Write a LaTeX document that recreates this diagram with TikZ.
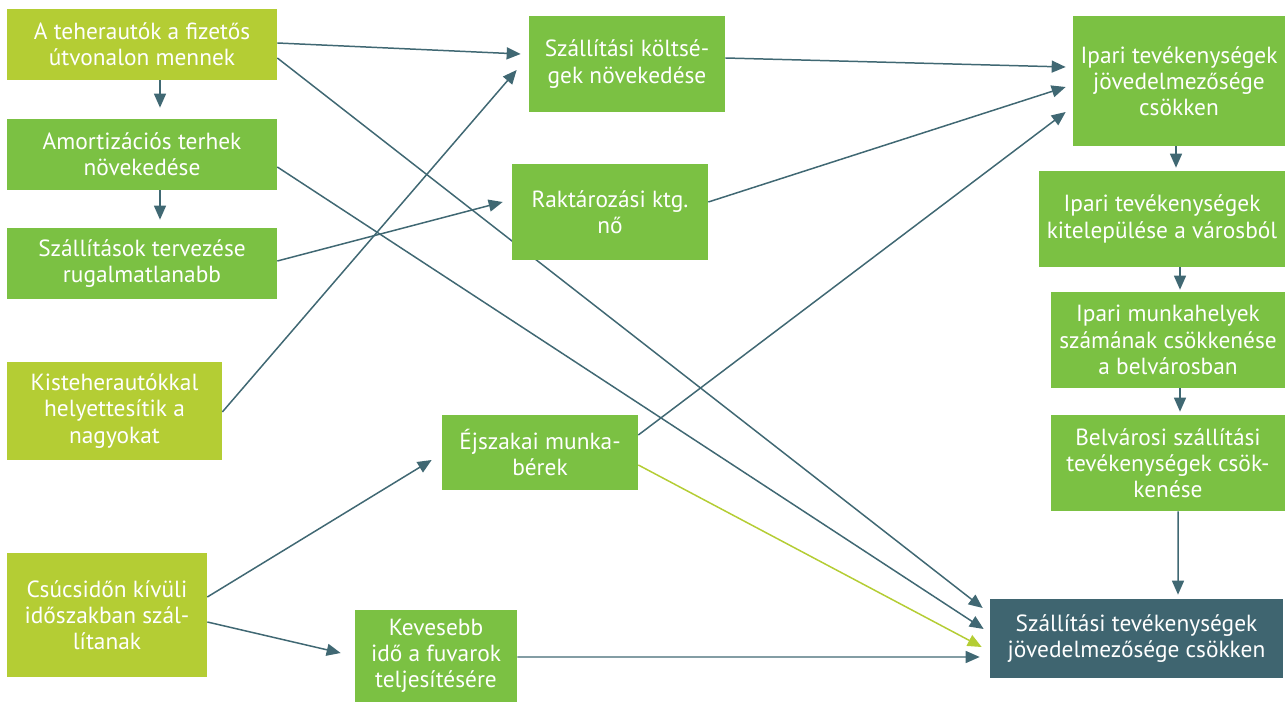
\documentclass[tikz,border=0pt]{standalone}
\usepackage{fontspec}
\setmainfont{PT Sans}
\usetikzlibrary{arrows.meta,calc}
\definecolor{limeC}{RGB}{180,205,52}
\definecolor{greenC}{RGB}{123,193,67}
\definecolor{tealC}{RGB}{63,101,112}
\definecolor{lineC}{RGB}{64,104,115}
\pgfdeclarelayer{background}
\pgfsetlayers{background,main}
\tikzset{
  box/.style={rectangle, inner sep=0pt, align=center, text=white,
    font=\fontsize{13.3}{14.9}\selectfont},
  limebox/.style={box, fill=limeC},
  greenbox/.style={box, fill=greenC},
  tealbox/.style={box, fill=tealC},
  arr/.style={draw=lineC, line width=0.85pt, -{Triangle[length=0.28cm,width=0.24cm]}},
  limearr/.style={arr, draw=limeC, -{Triangle[length=0.28cm,width=0.24cm,fill=limeC]}},
}
\begin{document}
\begin{tikzpicture}[x=0.02cm,y=-0.02cm]
\useasboundingbox (0,0) rectangle (1285,702);
% left column
\node[limebox, minimum width=5.4cm, minimum height=1.42cm] (A) at (142,44.5) {A teherautók a fizetős\\útvonalon mennek};
\node[greenbox, minimum width=5.4cm, minimum height=1.42cm] (B) at (142,154.5) {Amortizációs terhek\\növekedése};
\node[greenbox, minimum width=5.4cm, minimum height=1.42cm] (C) at (142,263.5) {Szállítások tervezése\\rugalmatlanabb};
\node[limebox, minimum width=4.3cm, minimum height=1.96cm] (D) at (114.5,411) {Kisteherautókkal\\helyettesítik a\\nagyokat};
\node[limebox, minimum width=4.0cm, minimum height=2.48cm] (E) at (107,615) {Csúcsidőn kívüli\\időszakban szál-\\lítanak};
% middle
\node[greenbox, minimum width=3.92cm, minimum height=1.92cm] (F) at (627,64) {Szállítási költsé-\\gek növekedése};
\node[greenbox, minimum width=3.92cm, minimum height=1.92cm] (G) at (610,212) {Raktározási ktg.\\nő};
\node[greenbox, minimum width=3.92cm, minimum height=1.5cm] (H) at (540,452.5) {Éjszakai munka-\\bérek};
\node[greenbox, minimum width=3.24cm, minimum height=1.84cm] (I) at (436,656) {Kevesebb\\idő a fuvarok\\teljesítésére};
% right column
\node[greenbox, minimum width=4.24cm, minimum height=2.6cm] (J) at (1179,81) {Ipari tevékenységek\\jövedelmezősége\\csökken};
\node[greenbox, minimum width=4.92cm, minimum height=1.92cm] (K) at (1162,219) {Ipari tevékenységek\\kitelepülése a városból};
\node[greenbox, minimum width=4.68cm, minimum height=1.92cm] (L) at (1168,340) {Ipari munkahelyek\\számának csökkenése\\a belvárosban};
\node[greenbox, minimum width=4.68cm, minimum height=1.92cm] (M) at (1168,463) {Belvárosi szállítási\\tevékenységek csök-\\kenése};
\node[tealbox, minimum width=5.86cm, minimum height=1.58cm] (N) at (1136.5,638.5) {Szállítási tevékenységek\\jövedelmezősége csökken};

\begin{pgfonlayer}{background}
\draw[arr] ($(A.south)+(18,0)$) -- ($(B.north)+(18,-11)$);
\draw[arr] ($(B.south)+(18,0)$) -- ($(C.north)+(18,-8)$);
\draw[arr] ($(A.east)+(0,-1.5)$) -- ($(F.west)+(-8,-10)$);
\draw[arr] ($(A.east)+(0,13.5)$) -- ($(N.west)+(-7,-30.5)$);
\draw[arr] ($(B.east)+(0,12.5)$) -- ($(N.west)+(-6,-9.5)$);
\draw[arr] ($(C.east)+(0,-2.5)$) -- ($(G.west)+(-9,-10)$);
\draw[arr] ($(D.east)+(0,1)$) -- ($(F.west)+(-12,6)$);
\draw[arr] ($(E.east)+(0,-18)$) -- ($(H.west)+(-10,7.5)$);
\draw[arr] ($(E.east)+(0,7)$) -- ($(I.west)+(-14,-3)$);
\draw[arr] ($(I.east)+(0,1)$) -- ($(N.west)+(-10,18.5)$);
\draw[arr] ($(F.east)+(0,-6)$) -- ($(J.west)+(-7,-14)$);
\draw[arr] ($(G.east)+(0,-10)$) -- ($(J.west)+(-7,6)$);
\draw[arr] ($(H.east)+(0,-17.5)$) -- ($(J.west)+(-7,31)$);
\draw[limearr] ($(H.east)+(0,12.5)$) -- ($(N.west)+(-8,8.5)$);
\draw[arr] ($(J.south)+(-3,0)$) -- ($(K.north)+(14,-3)$);
\draw[arr] ($(K.south)+(18,0)$) -- ($(L.north)+(12,-2)$);
\draw[arr] ($(L.south)+(12,0)$) -- ($(M.north)+(12,-3)$);
\draw[arr] ($(M.south)+(10,0)$) -- ($(N.north)+(41.5,-4)$);
\end{pgfonlayer}
\end{tikzpicture}
\end{document}
